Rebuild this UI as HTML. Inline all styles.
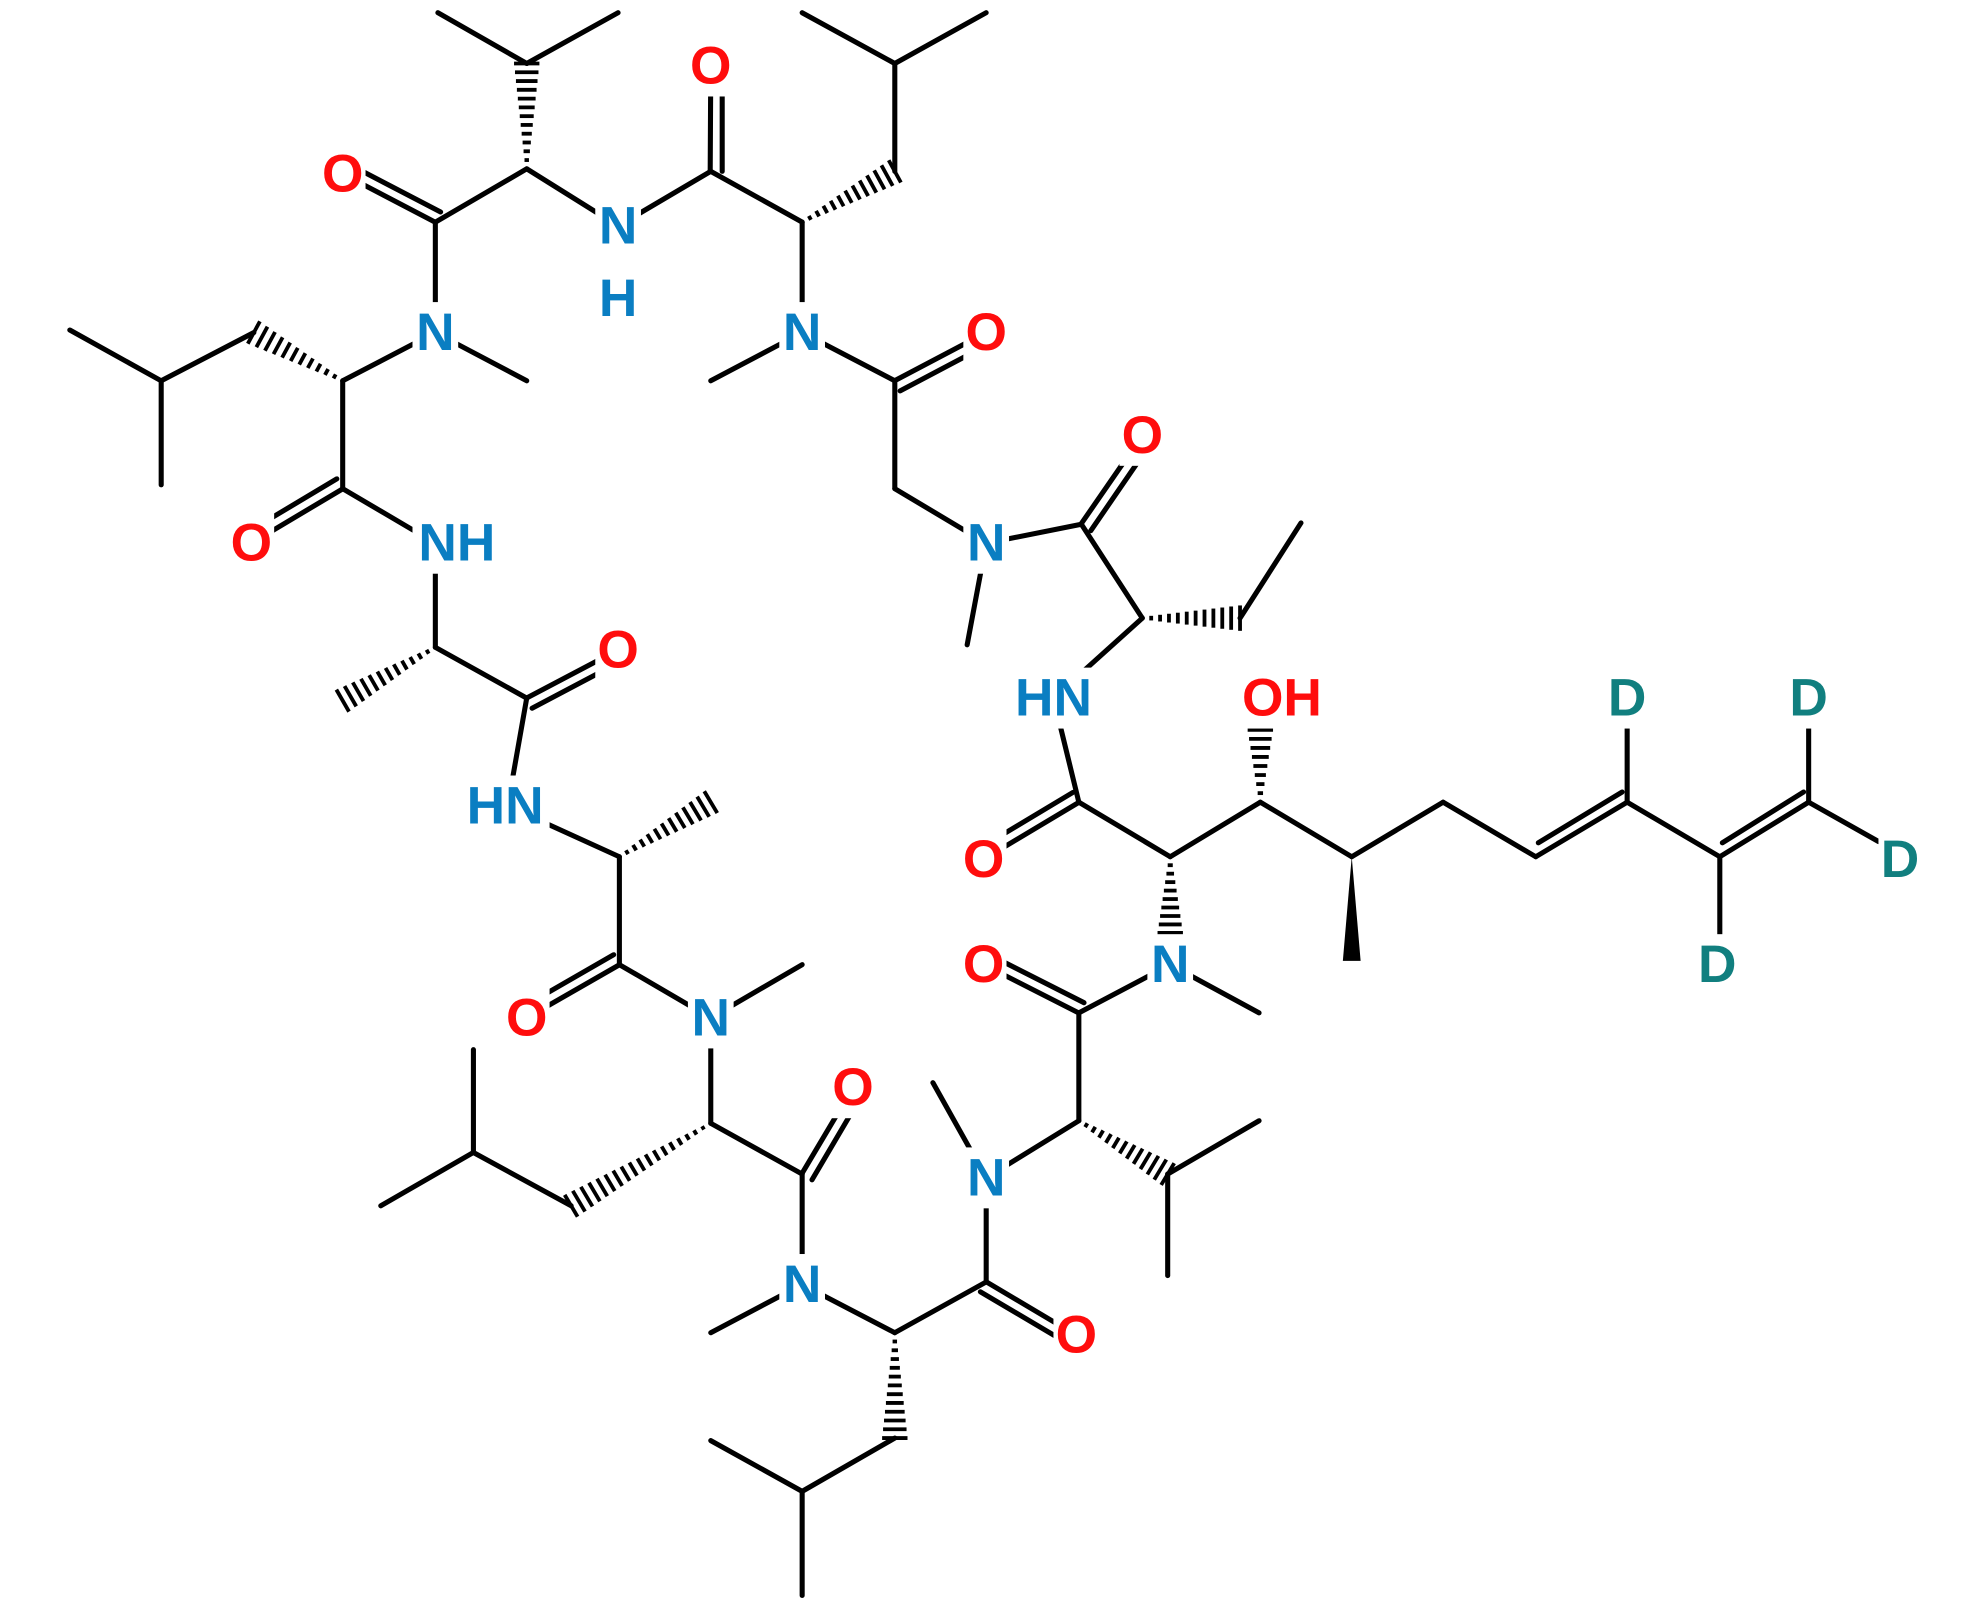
<!DOCTYPE html>
<html><head><meta charset="utf-8"><style>
html,body{margin:0;padding:0;background:#fff}
svg{display:block}
text{font-family:"Liberation Sans",sans-serif;font-weight:bold;font-size:42px;text-anchor:middle;dominant-baseline:central}
</style></head><body>
<svg id="s" width="1980" height="1598" viewBox="0 0 1560 1259" xmlns="http://www.w3.org/2000/svg"></svg>
<script>
const s=document.getElementById('s');
let out='';
const L=(a,b,c,d)=>{out+=`<line x1="${a}" y1="${b}" x2="${c}" y2="${d}" stroke="#000" stroke-width="4" stroke-linecap="round"/>`};
const B=[
[345,10,415,50],[487,10,415,50],[415,133,343,175],[343,175,343,262],[343,262,415,300],[415,133,487,178],[487,178,560,135],[560,135,632,175],
[705,135,705,50],[705,50,632,10],[705,50,777,10],[632,175,632,262],[632,262,560,300],[632,262,705,300],[705,300,705,385],[705,385,777,428],[777,428,762,508],[777,428,852,413],[852,413,900,487],[977,487,1025,412],[900,487,830,550],[830,550,850,632],[850,632,922,675],[922,675,993,632],[993,632,1065,675],[1065,675,1137,632],[1137,632,1210,675],[1282,632,1282,560],[1282,632,1355,675],[1355,675,1355,750],[1425,632,1425,560],[1425,632,1480,663],
[922,760,992,798],[922,760,850,798],[850,798,850,883],[920,925,992,883],[920,925,920,1005],[850,883,777,928],[777,928,735,853],[777,928,777,1010],[777,1010,705,1050],[705,1133,632,1175],[632,1175,560,1135],[632,1175,632,1257],[705,1050,632,1012],[632,1012,560,1050],[632,1012,632,925],[632,925,560,885],[450,950,373,908],[373,908,300,950],[373,908,373,827],[560,885,560,802],[560,802,632,760],[560,802,488,760],[488,760,488,675],[488,675,400,635],[400,635,415,550],[415,550,343,510],[343,510,343,428],[343,428,270,385],[270,385,270,300],[200,262,127,300],[127,300,55,260],[127,300,127,382],[270,300,343,262]];
B.forEach(b=>L(...b));
// double bonds: second line offset
const D=(a,b,c,d,ox,oy)=>L(a+ox,b+oy,c+ox,d+oy);
[[343,175,270,137],[560,135,560,52],[705,300,777,262],[852,413,900,343],[850,632,775,677],[850,798,775,760],[777,1010,848,1052],[632,925,672,857],[488,760,415,802],[415,550,487,512],[270,385,198,428]].forEach(b=>{
 const [a,c,e,f]=b;const dx=e-a,dy=f-c,l=Math.hypot(dx,dy);const nx=-dy/l*9,ny=dx/l*9;
 L(a-nx/2*0.1,c,e,f);L(a+nx,c+ny,e+nx,f+ny);
});
// C=C double bonds (inner line)
[[1210,675,1282,632],[1355,675,1425,632]].forEach(b=>{L(...b);const [a,c,e,f]=b;L(a+2,c-11,e-4,f-9+1);});
// hashed bonds
const H=(a,b,c,d)=>{const dx=c-a,dy=d-b,l=Math.hypot(dx,dy);const nx=-dy/l,ny=dx/l;const n=Math.round(l/7);for(let i=1;i<=n;i++){const t=i/n,w=1+t*9;const x=a+dx*t,y=b+dy*t;out+=`<line x1="${x-nx*w}" y1="${y-ny*w}" x2="${x+nx*w}" y2="${y+ny*w}" stroke="#000" stroke-width="3"/>`}};
[[415,133,415,50],[632,175,705,135],[900,487,977,487],[993,632,993,575],[922,675,922,735],[850,883,920,925],[705,1050,705,1133],[560,885,450,950],[488,675,560,632],[343,510,270,552],[270,300,200,262]].forEach(h=>H(...h));
// wedge
out+=`<polygon points="1065,675 1058,757 1072,757" fill="#000"/>`;
// labels
const T=(x,y,t,c,w)=>{out+=`<rect x="${x-w/2}" y="${y-24}" width="${w}" height="48" fill="#fff"/><text x="${x}" y="${y}" fill="${c}">${t}</text>`};
const O='#ff0d0d',N='#0a7ec2',Dc='#117f7f';
[[270,137],[560,52],[777,262],[900,343],[775,677],[775,760],[848,1052],[672,857],[415,802],[487,512],[198,428]].forEach(p=>T(p[0],p[1],'O',O,36));
[[343,262],[632,262],[777,428],[922,760],[777,928],[632,1012],[560,802]].forEach(p=>T(p[0],p[1],'N',N,36));
T(487,178,'N',N,36);T(487,235,'H',N,34);
T(360,428,'NH',N,70);T(398,635,'HN',N,70);T(830,550,'HN',N,70);T(1010,550,'OH',O,74);
T(1282,550,'D',Dc,34);T(1425,550,'D',Dc,34);T(1497,677,'D',Dc,34);T(1353,760,'D',Dc,34);
s.innerHTML=out;
</script>
</body></html>
